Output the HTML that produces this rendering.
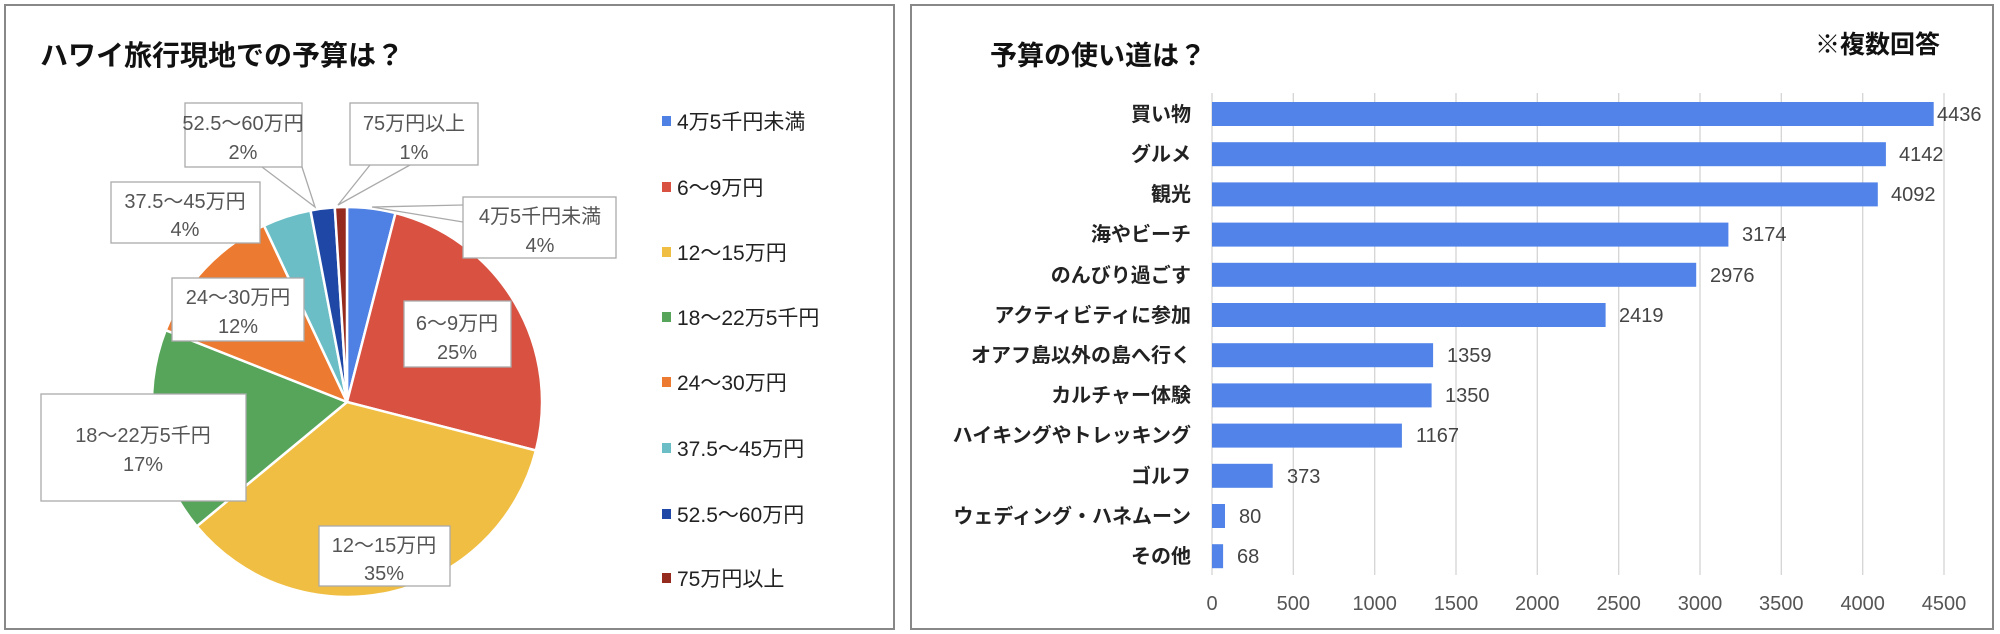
<!DOCTYPE html>
<html><head><meta charset="utf-8"><style>
html,body{margin:0;padding:0;background:#fff}
svg{display:block}
text{font-family:"Liberation Sans","Noto Sans CJK JP",sans-serif}
.t{font-weight:bold;fill:#111}
.lg{font-size:21px;fill:#222}
.lb{font-size:20px;fill:#555}
.cat{font-size:20px;font-weight:bold;fill:#222}
.v{font-size:20px;fill:#444}
.ax{font-size:20px;fill:#555}
</style></head><body>
<svg width="2000" height="634" viewBox="0 0 2000 634" xmlns="http://www.w3.org/2000/svg">
<rect x="5" y="5" width="889" height="624" fill="#fff" stroke="#888" stroke-width="2"/>
<rect x="911" y="5" width="1082" height="624" fill="#fff" stroke="#888" stroke-width="2"/>
<text x="40" y="65" class="t" font-size="28">ハワイ旅行現地での予算は？</text>
<g stroke="#fff" stroke-width="2.5" stroke-linejoin="round">
<path d="M347,402 L347,207 A195,195 0 0 1 395.5,213.1 Z" fill="#4f80e3"/>
<path d="M347,402 L395.5,213.1 A195,195 0 0 1 535.9,450.5 Z" fill="#d95141"/>
<path d="M347,402 L535.9,450.5 A195,195 0 0 1 196.8,526.3 Z" fill="#f0be42"/>
<path d="M347,402 L196.8,526.3 A195,195 0 0 1 165.7,330.2 Z" fill="#57a55b"/>
<path d="M347,402 L165.7,330.2 A195,195 0 0 1 264,225.6 Z" fill="#ec7a30"/>
<path d="M347,402 L264,225.6 A195,195 0 0 1 310.5,210.5 Z" fill="#6bbec6"/>
<path d="M347,402 L310.5,210.5 A195,195 0 0 1 334.8,207.4 Z" fill="#1f47a5"/>
<path d="M347,402 L334.8,207.4 A195,195 0 0 1 347,207 Z" fill="#952a1f"/>
</g>
<g stroke="#aaa" stroke-width="1.3" fill="#fff">
<polyline points="262,167 315,207 302,167" fill="none"/>
<polyline points="370,165 338,205 410,165" fill="none"/>
<polyline points="463,205 372,207 463,222" fill="none"/>
<rect x="185" y="103" width="117" height="64"/>
<rect x="350" y="103" width="128" height="62"/>
<rect x="111" y="182" width="149" height="61"/>
<rect x="463" y="197" width="153" height="61"/>
<rect x="172" y="278" width="132" height="63"/>
<rect x="404" y="301" width="107" height="66"/>
<rect x="41" y="394" width="205" height="107"/>
<rect x="319" y="526" width="131" height="60"/>
</g>
<g class="lb" text-anchor="middle">
<text x="243" y="130">52.5〜60万円</text><text x="243" y="159">2%</text>
<text x="414" y="130">75万円以上</text><text x="414" y="159">1%</text>
<text x="185" y="208">37.5〜45万円</text><text x="185" y="236">4%</text>
<text x="540" y="223">4万5千円未満</text><text x="540" y="252">4%</text>
<text x="238" y="304">24〜30万円</text><text x="238" y="333">12%</text>
<text x="457" y="330">6〜9万円</text><text x="457" y="359">25%</text>
<text x="143" y="442">18〜22万5千円</text><text x="143" y="471">17%</text>
<text x="384" y="552">12〜15万円</text><text x="384" y="580">35%</text>
</g>
<g class="lg">
<rect x="662" y="116" width="9" height="10" fill="#4f80e3"/><text x="677" y="129">4万5千円未満</text>
<rect x="662" y="182" width="9" height="10" fill="#d95141"/><text x="677" y="195">6〜9万円</text>
<rect x="662" y="247" width="9" height="10" fill="#f0be42"/><text x="677" y="260">12〜15万円</text>
<rect x="662" y="312" width="9" height="10" fill="#57a55b"/><text x="677" y="325">18〜22万5千円</text>
<rect x="662" y="377" width="9" height="10" fill="#ec7a30"/><text x="677" y="390">24〜30万円</text>
<rect x="662" y="443" width="9" height="10" fill="#6bbec6"/><text x="677" y="456">37.5〜45万円</text>
<rect x="662" y="509" width="9" height="10" fill="#1f47a5"/><text x="677" y="522">52.5〜60万円</text>
<rect x="662" y="573" width="9" height="10" fill="#952a1f"/><text x="677" y="586">75万円以上</text>
</g>
<text x="990" y="65" class="t" font-size="27">予算の使い道は？</text>
<text x="1815" y="53" class="t" font-size="25">※複数回答</text>
<g stroke="#d4d4d4" stroke-width="1.3">
<line x1="1212" y1="93" x2="1212" y2="575"/><line x1="1293.3" y1="93" x2="1293.3" y2="575"/>
<line x1="1374.7" y1="93" x2="1374.7" y2="575"/><line x1="1456" y1="93" x2="1456" y2="575"/>
<line x1="1537.3" y1="93" x2="1537.3" y2="575"/><line x1="1618.7" y1="93" x2="1618.7" y2="575"/>
<line x1="1700" y1="93" x2="1700" y2="575"/><line x1="1781.3" y1="93" x2="1781.3" y2="575"/>
<line x1="1862.7" y1="93" x2="1862.7" y2="575"/><line x1="1944" y1="93" x2="1944" y2="575"/>
</g>
<g class="ax" text-anchor="middle">
<text x="1212" y="610">0</text><text x="1293.3" y="610">500</text><text x="1374.7" y="610">1000</text>
<text x="1456" y="610">1500</text><text x="1537.3" y="610">2000</text><text x="1618.7" y="610">2500</text>
<text x="1700" y="610">3000</text><text x="1781.3" y="610">3500</text><text x="1862.7" y="610">4000</text>
<text x="1944" y="610">4500</text>
</g>
<g fill="#5183e8">
<rect x="1212" y="102" width="721.7" height="24"/>
<rect x="1212" y="142.2" width="673.9" height="24"/>
<rect x="1212" y="182.4" width="665.8" height="24"/>
<rect x="1212" y="222.6" width="516.4" height="24"/>
<rect x="1212" y="262.8" width="484.2" height="24"/>
<rect x="1212" y="303" width="393.6" height="24"/>
<rect x="1212" y="343.2" width="221.1" height="24"/>
<rect x="1212" y="383.4" width="219.6" height="24"/>
<rect x="1212" y="423.6" width="189.9" height="24"/>
<rect x="1212" y="463.8" width="60.7" height="24"/>
<rect x="1212" y="504" width="13" height="24"/>
<rect x="1212" y="544.2" width="11.1" height="24"/>
</g>
<g class="cat" text-anchor="end">
<text x="1191" y="121">買い物</text>
<text x="1191" y="161">グルメ</text>
<text x="1191" y="201">観光</text>
<text x="1191" y="241">海やビーチ</text>
<text x="1191" y="282">のんびり過ごす</text>
<text x="1191" y="322">アクティビティに参加</text>
<text x="1191" y="362">オアフ島以外の島へ行く</text>
<text x="1191" y="402">カルチャー体験</text>
<text x="1191" y="442">ハイキングやトレッキング</text>
<text x="1191" y="483">ゴルフ</text>
<text x="1191" y="523">ウェディング・ハネムーン</text>
<text x="1191" y="563">その他</text>
</g>
<g class="v">
<text x="1937" y="121">4436</text>
<text x="1899" y="161">4142</text>
<text x="1891" y="201">4092</text>
<text x="1742" y="241">3174</text>
<text x="1710" y="282">2976</text>
<text x="1619" y="322">2419</text>
<text x="1447" y="362">1359</text>
<text x="1445" y="402">1350</text>
<text x="1416" y="442">1167</text>
<text x="1287" y="483">373</text>
<text x="1239" y="523">80</text>
<text x="1237" y="563">68</text>
</g>
</svg>
</body></html>
